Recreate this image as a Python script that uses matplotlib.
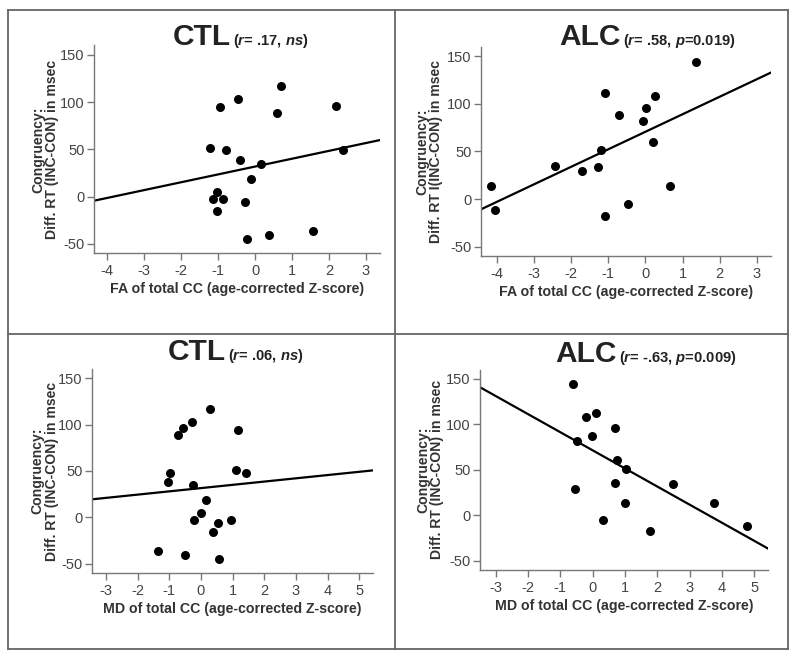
import numpy as np
import matplotlib
matplotlib.use("Agg")
import matplotlib.pyplot as plt
from matplotlib.lines import Line2D

plt.rcParams['font.family'] = ['Liberation Sans', 'DejaVu Sans']
plt.rcParams['mathtext.fontset'] = 'custom'
plt.rcParams['mathtext.it'] = 'Liberation Sans:bold:italic'
plt.rcParams['mathtext.rm'] = 'Liberation Sans:bold'
plt.rcParams['axes.unicode_minus'] = False

# ---------------- data ----------------
# Panel A: CTL, FA
ctl_fa_x = [0.70, -0.47, -0.95, 0.59, 2.20, -1.23, -0.80, -0.41, 0.15, 2.39,
            -0.12, -1.02, -1.13, -0.86, -0.28, -1.02, -0.22, 0.37, 1.58]
ctl_fa_y = [117, 103, 95, 89, 96.5, 52, 49, 39, 35, 49,
            19, 4.6, -2.8, -2.8, -6, -15, -44.5, -41, -36.4]
# Panel B: ALC, FA
alc_fa_x = [1.37, -1.08, 0.27, 0.02, -0.71, -0.07, 0.21, -1.19, -2.44, -1.26,
            -1.70, -4.16, 0.66, -4.04, -0.47, -1.09]
alc_fa_y = [144, 111.5, 108, 96, 88, 82, 60, 51, 35, 34,
            29, 14, 14, -12, -5.6, -17.5]
# Panel C: CTL, MD
ctl_md_x = [0.27, -0.29, -0.56, -0.72, 1.17, -0.98, -1.05, 1.09, 1.41, -0.26,
            0.17, -0.01, -0.23, 0.94, 0.53, 0.37, -1.36, -0.49, 0.56]
ctl_md_y = [116.5, 102.5, 96, 88.5, 94.6, 48, 38, 51.4, 48, 34.5,
            18.3, 4.3, -2.9, -2.9, -6.1, -15.5, -36.7, -41, -44.6]
# Panel D: ALC, MD
alc_md_x = [-0.60, 0.11, -0.22, 0.69, -0.03, -0.49, 0.74, 1.03, 0.70, 2.47,
            -0.53, 0.99, 3.76, 0.32, 1.77, 4.76]
alc_md_y = [144.3, 112.5, 108.4, 96.3, 87.5, 82, 60.8, 51, 35.2, 34.8,
            29.3, 13.6, 13.6, -5.5, -17.6, -12.1]

# fit lines (intercept, slope)
fit_intercepts = [31.9, 70.5, 31.5, 71.4]
fit_slopes = [8.3, 18.4, 3.52, -19.9]

groups = ["CTL", "ALC", "CTL", "ALC"]
stats_text = [r"($r$= .17, $ns$)", r"($r$= .58, $p$=0.019)",
              r"($r$= .06, $ns$)", r"($r$= -.63, $p$=0.009)"]
xlabels = ["FA of total CC (age-corrected Z-score)",
           "FA of total CC (age-corrected Z-score)",
           "MD of total CC (age-corrected Z-score)",
           "MD of total CC (age-corrected Z-score)"]
ylabels = ["Congruency:\nDiff. RT (INC-CON) in msec",
           "Congruency:\nDiff. RT I(INC-CON) in msec",
           "Congruency:\nDiff. RT (INC-CON) in msec",
           "Congruency:\nDiff. RT (INC-CON) in msec"]
xticks_fa = [-4, -3, -2, -1, 0, 1, 2, 3]
xticks_md = [-3, -2, -1, 0, 1, 2, 3, 4, 5]
yticks = [-50, 0, 50, 100, 150]

# ---------------- layout ----------------
W, H = 800, 654
fig = plt.figure(figsize=(8, 6.54), dpi=100)

def px_axes(l, r, t, b):
    return [l / W, (H - b) / H, (r - l) / W, (b - t) / H]

boxes = [px_axes(94.3, 380, 45.5, 253.4),
         px_axes(481, 771, 46.5, 256.2),
         px_axes(92, 373.3, 369, 572.9),
         px_axes(480, 767.7, 369.6, 570)]
xlims = [(-4.35, 3.38), (-4.42, 3.38), (-3.44, 5.44), (-3.48, 5.41)]
ylim = (-60, 160)
title_split = [0.477, 0.483, 0.476, 0.476]
title_base = [1.002, 1.007, 1.044, 1.039]
ylab_x = [-0.172, -0.179, -0.168, -0.174]

data = [(ctl_fa_x, ctl_fa_y), (alc_fa_x, alc_fa_y),
        (ctl_md_x, ctl_md_y), (alc_md_x, alc_md_y)]

txtc = '#333333'
for i in range(4):
    ax = fig.add_axes(boxes[i])
    x, y = data[i]
    ax.scatter(x, y, s=42, color='black', zorder=3, linewidths=0)
    xl = np.array(xlims[i])
    ax.plot(xl, fit_intercepts[i] + fit_slopes[i] * xl, color='black', lw=1.6, zorder=2)
    ax.set_xlim(*xlims[i])
    ax.set_ylim(*ylim)
    ax.set_xticks(xticks_fa if i < 2 else xticks_md)
    ax.set_yticks(yticks)
    for s in ['top', 'right']:
        ax.spines[s].set_visible(False)
    for s in ['left', 'bottom']:
        ax.spines[s].set_color('#777777')
        ax.spines[s].set_linewidth(1.0)
    ax.tick_params(axis='both', direction='out', length=4.8, width=1.0,
                   color='#777777', labelsize=10.5, labelcolor='#444444', pad=2)
    ax.tick_params(axis='x', pad=3)
    ax.set_xlabel(xlabels[i], fontsize=10.2, fontweight='bold', color=txtc, labelpad=3)
    ax.set_ylabel(ylabels[i], fontsize=10.1, fontweight='bold', color=txtc,
                  linespacing=1.0)
    ax.yaxis.set_label_coords(ylab_x[i], 0.5)
    ax.yaxis.label.set_va('center')
    ax.text(title_split[i], title_base[i], groups[i], transform=ax.transAxes,
            ha='right', va='baseline', fontsize=21.5, fontweight='bold', color='#222222')
    ax.text(title_split[i] + 0.008, title_base[i], stats_text[i], transform=ax.transAxes,
            ha='left', va='baseline', fontsize=10.6, fontweight='bold', color='#222222')

# border grid
bc = '#666666'
L, R, T, B = 8, 788, 9.5, 648.7
MX, MY = 395.3, 333.7
def fx(v): return v / W
def fy(v): return (H - v) / H
for (x0, y0, x1, y1) in [(L, T, R, T), (L, B, R, B), (L, T, L, B), (R, T, R, B),
                         (MX, T, MX, B), (L, MY, R, MY)]:
    fig.add_artist(Line2D([fx(x0), fx(x1)], [fy(y0), fy(y1)], color=bc, lw=1.3,
                          transform=fig.transFigure))

fig.savefig("out.png", dpi=100)
